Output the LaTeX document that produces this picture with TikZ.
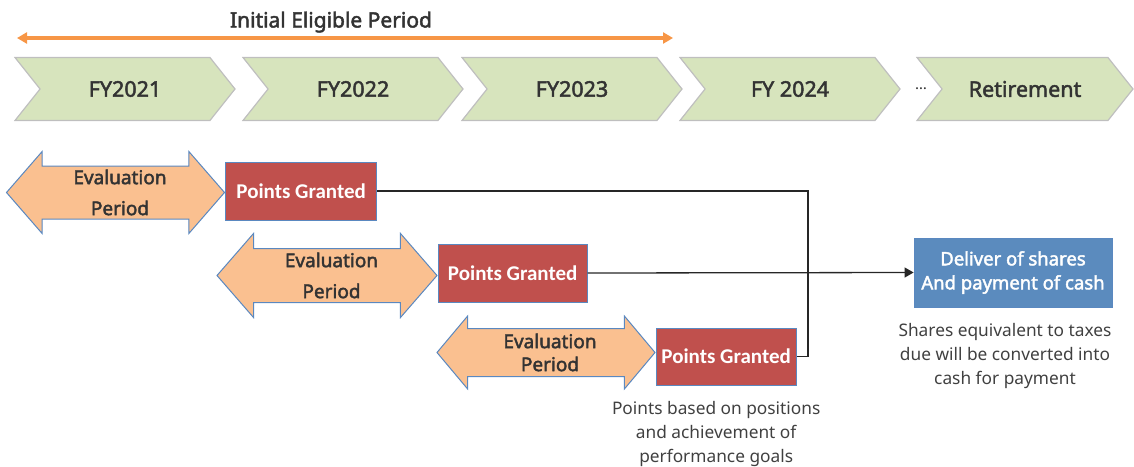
\documentclass[tikz,border=0pt]{standalone}
\usepackage{fontspec}
\setmainfont{Noto Sans}[AutoFakeBold=2.2]
\newfontfamily\boxfont{Carlito}
\usetikzlibrary{shapes.symbols, shapes.arrows, positioning, arrows.meta}

\definecolor{yeargreen}{HTML}{D7E4BD}
\definecolor{yearedge}{HTML}{BFBFBF}
\definecolor{periodorange}{HTML}{F79646}
\definecolor{evalfill}{HTML}{FAC090}
\definecolor{evaledge}{HTML}{5A88C0}
\definecolor{grantred}{HTML}{C0504D}
\definecolor{deliverblue}{HTML}{5B8BBE}
\definecolor{textgray}{HTML}{333333}
\definecolor{linegray}{HTML}{262626}

\begin{document}
\begin{tikzpicture}[
x=1pt, y=-1pt,
every node/.style={text=textgray},
year/.style={signal, signal from=west, signal to=east, signal pointer angle=103,
  draw=yearedge, line width=1.2pt, fill=yeargreen, minimum width=220pt,
  minimum height=63pt, inner sep=0pt, font=\fontsize{21.5}{24}\selectfont\bfseries},
evalarrow/.style={double arrow, double arrow head extend=14.5pt, double arrow tip angle=98,
  draw=evaledge, line width=1pt, fill=evalfill, minimum height=218pt,
  minimum width=81pt, inner xsep=0pt, inner ysep=26pt},
evaltext/.style={align=center, font=\fontsize{19}{31}\selectfont\bfseries},
granted/.style={draw=evaledge, line width=1pt, fill=grantred, minimum height=58pt,
  text=white, inner sep=0pt, font=\boxfont\fontsize{21}{24}\selectfont\bfseries},
note/.style={align=center, inner sep=2pt, text=black!75, font=\fontsize{17.3}{24}\selectfont},
period/.style={{Triangle[length=10pt, width=11pt]}-{Triangle[length=10pt, width=11pt]},
  line width=3.5pt, periodorange},
link/.style={line width=1.3pt, linegray},
]
\useasboundingbox (0,0) rectangle (1134,466);

% Initial eligible period
\coordinate (eligstart) at (17,38);
\coordinate (eligend) at (673,38);
\draw[period] (eligstart) -- (eligend);
\node[font=\fontsize{21}{24}\selectfont\bfseries] (eligible) at (331,22) {Initial Eligible Period};

% Year chevrons
\node[year] (fy21) at (125,89) {FY2021};
\node[year] (fy22) at (353,89) {FY2022};
\node[year] (fy23) at (572,89) {FY2023};
\node[year] (fy24) at (790,89) {FY 2024};
\node[font=\fontsize{15}{18}\selectfont] (dots) at (921,89) {\ldots};
\node[year, minimum width=216pt] (retire) at (1025,89) {Retirement};

% Evaluation periods and grants
\node[evalarrow] (eval1) at (115.5,192.5) {};
\node[evaltext, xshift=4.5pt] (evallabel1) at (eval1) {Evaluation\\Period};
\node[granted, minimum width=151pt, right=0pt of eval1, yshift=1.5pt] (grant1) {Points Granted};

\node[evalarrow, minimum height=220pt, minimum width=83pt, double arrow head extend=15pt,
  inner ysep=26.5pt] (eval2) at (327,275.5) {};
\node[evaltext, xshift=4.5pt] (evallabel2) at (eval2) {Evaluation\\Period};
\node[granted, minimum width=149pt, right=0pt of eval2, yshift=2.5pt] (grant2) {Points Granted};

\node[evalarrow, minimum height=218pt, minimum width=72pt, double arrow head extend=12.5pt,
  inner ysep=23.5pt, double arrow tip angle=100] (eval3) at (546,352.5) {};
\node[evaltext, xshift=4pt, font=\fontsize{19}{23}\selectfont\bfseries] (evallabel3) at (eval3) {Evaluation\\Period};
\node[granted, minimum width=140pt, minimum height=57pt, right=0pt of eval3, yshift=-4pt] (grant3) {Points Granted};

% Delivery
\node[fill=deliverblue, draw=evaledge, line width=0.8pt, minimum width=198pt, minimum height=69pt,
  align=center, text=white, font=\fontsize{18.5}{24}\selectfont\bfseries] (deliver) at (1013,272.5)
  {Deliver of shares\\And payment of cash};

% Connectors
\coordinate (bend) at (808,191);
\draw[link] (grant1.east) -- (grant1.east -| bend) |- (grant3.east);
\draw[link, -{Triangle[length=9pt, width=10pt]}] (grant2.east) -- (deliver.west);

% Notes
\node[note, below=14pt of grant3, xshift=-10pt] (grantnote)
  {Points based on positions\\and achievement of\\performance goals};
\node[note, below=14pt of deliver, xshift=-8pt] (delivernote)
  {Shares equivalent to taxes\\due will be converted into\\cash for payment};
\end{tikzpicture}
\end{document}
